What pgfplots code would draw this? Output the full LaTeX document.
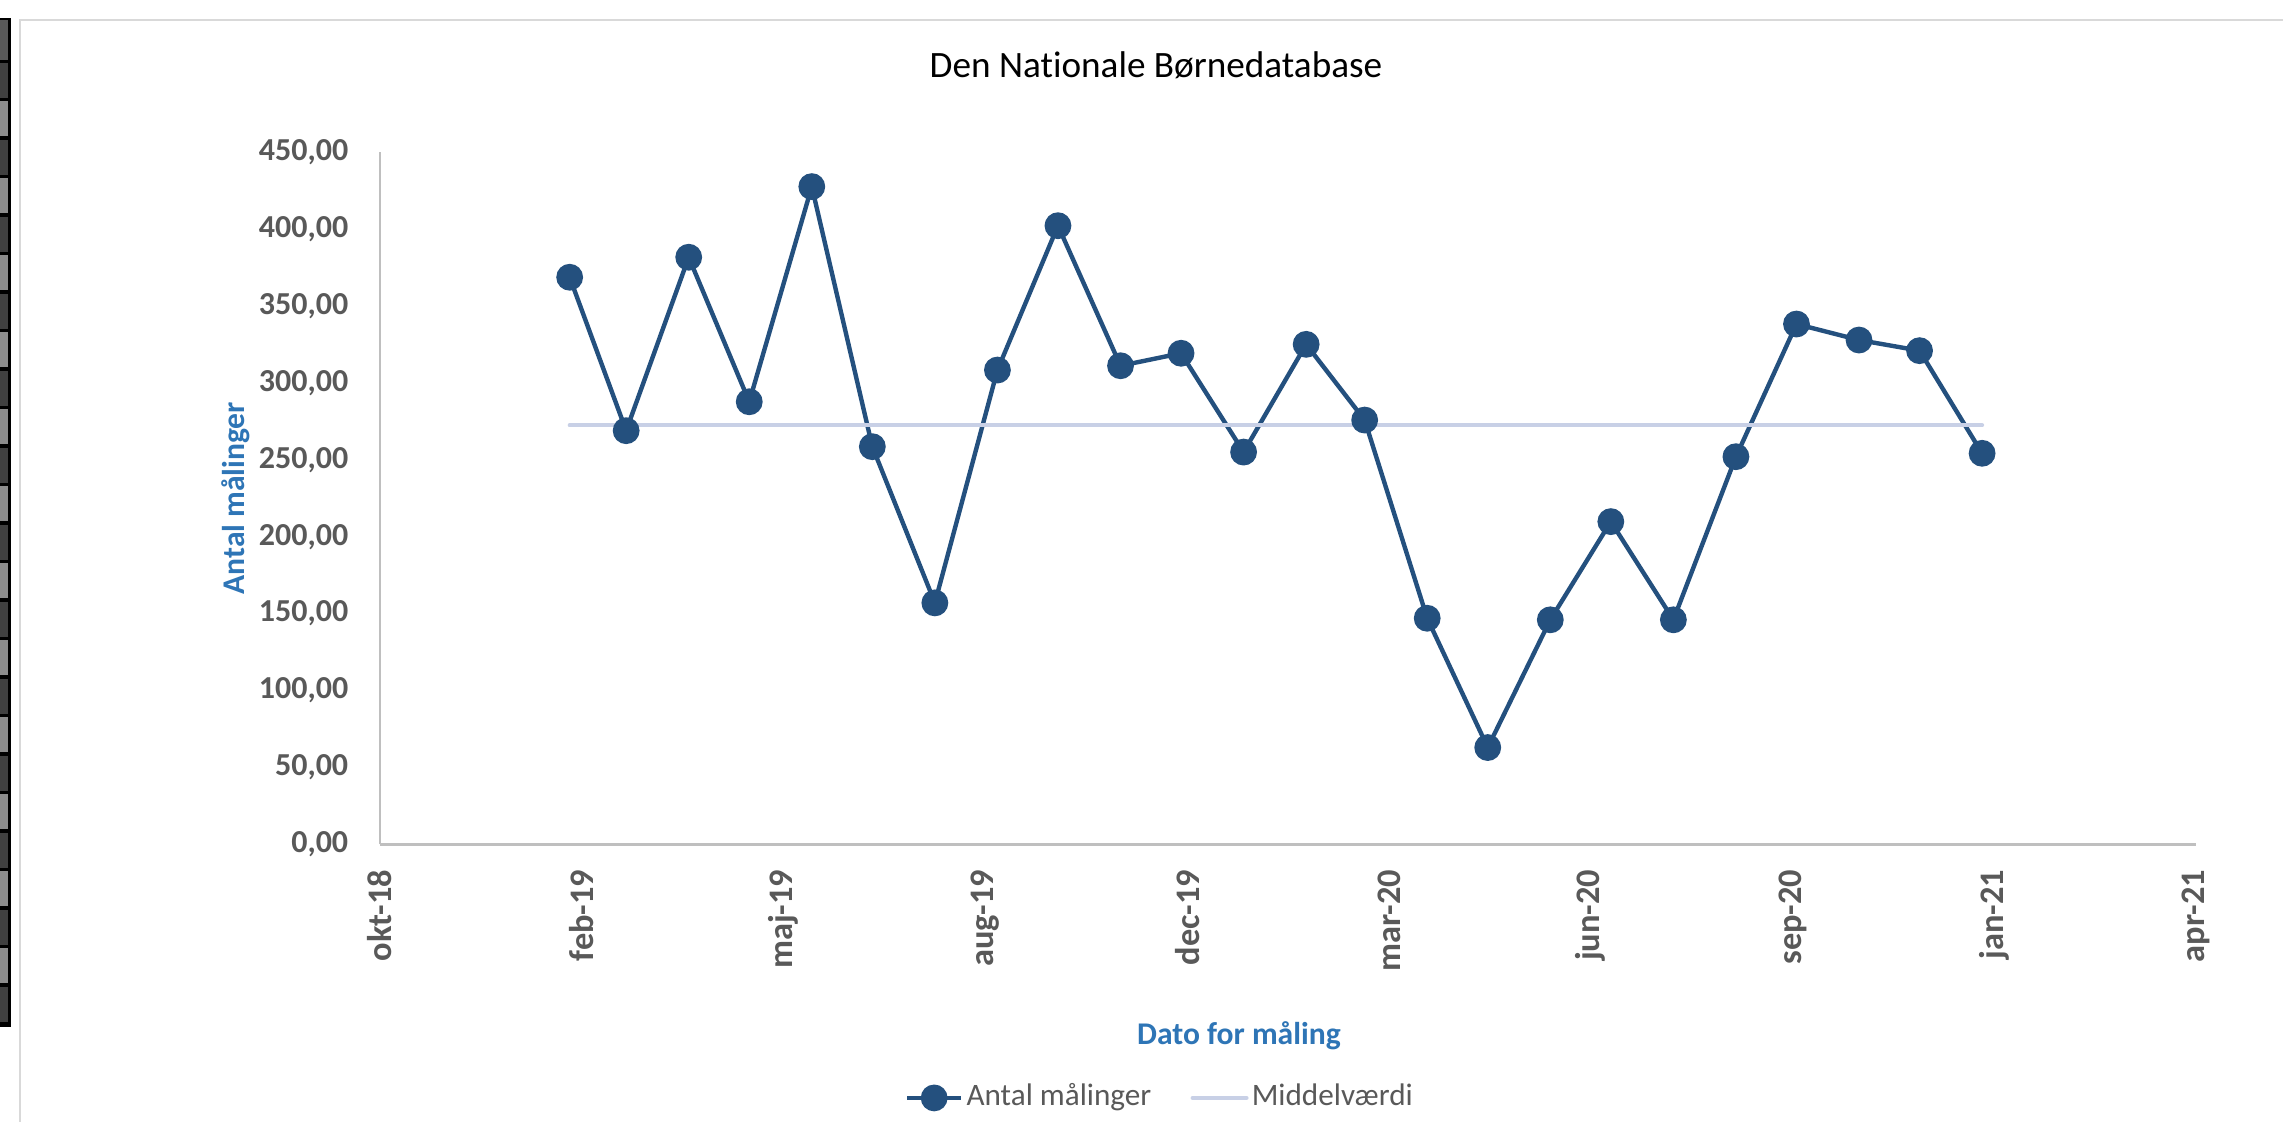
\documentclass[border=0pt]{standalone}
\usepackage{pgfplots}
\pgfplotsset{compat=1.18}
\usepackage{fontspec}
\setmainfont{Carlito}[Ligatures=NoCommon]
\definecolor{serieblue}{HTML}{24507E}
\definecolor{meanline}{HTML}{C8D0E6}
\definecolor{ticktext}{HTML}{595959}
\definecolor{titleblue}{HTML}{2E75B6}
\definecolor{axisgray}{HTML}{BFBFBF}
\definecolor{framegray}{HTML}{D9D9D9}
\begin{document}
\begin{tikzpicture}
\path[use as bounding box, fill=white] (0,0) rectangle (570.75pt,280.5pt);
% chart frame
\draw[framegray, line width=0.5pt] (5pt,0) -- (5pt,275.5pt) -- (570.75pt,275.5pt);
% spreadsheet strip at the left edge
\fill[black] (0,23.75pt) rectangle (2.7pt,276pt);
\fill[gray!70!black] (0,265.6pt) rectangle (1.9pt,275.6pt);
\foreach \k in {0,...,24} {
  \pgfmathsetmacro{\shade}{mod(\k,2)==0 ? 75 : 45}
  \fill[black!\shade!white] (0,{(1061-38.5*\k)/4*1pt-0.4pt}) rectangle (1.9pt,{(1061-38.5*(\k+1))/4*1pt+0.4pt});
}
\begin{axis}[
  at={(95pt,69.375pt)}, anchor=south west,
  scale only axis, width=454pt, height=173.125pt,
  xmin=0, xmax=900, ymin=0, ymax=450,
  axis x line*=bottom, axis y line*=left,
  axis line style={-, axisgray, line width=0.6pt},
  xtick={0,100,...,900},
  xticklabels={okt-18,feb-19,maj-19,aug-19,dec-19,mar-20,jun-20,sep-20,jan-21,apr-21},
  ytick={0,50,...,450},
  yticklabels={{0,00},{50,00},{100,00},{150,00},{200,00},{250,00},{300,00},{350,00},{400,00},{450,00}},
  major tick length=0pt,
  tick label style={font=\bfseries\fontsize{8}{9.6}\selectfont, text=ticktext},
  yticklabel style={anchor=east, inner sep=0pt},
  yticklabel shift=7.75pt,
  xticklabel style={rotate=90, anchor=east, inner sep=0pt, font=\bfseries\fontsize{8.6}{10}\selectfont},
  xticklabel shift=6.1pt,
  xlabel={Dato for måling}, ylabel={Antal målinger},
  label style={font=\bfseries\fontsize{7.9}{9.5}\selectfont, text=titleblue, inner sep=0pt},
  xlabel style={at={(axis description cs:0.473,-0.2894)}, anchor=base},
  ylabel style={at={(axis description cs:-0.07434,0.5)}, anchor=base},
  title={Den Nationale Børnedatabase},
  title style={font=\fontsize{9.3}{11}\selectfont, text=black, inner sep=0pt, at={(axis description cs:0.4273,1.0725)}, anchor=base},
  legend columns=2,
  legend style={draw=none, fill=none, at={(axis description cs:0.4298,-0.366)}, anchor=center,
    font=\fontsize{7.8}{9.4}\selectfont, text=ticktext, inner sep=0pt,
    nodes={inner sep=0.8pt},
    /tikz/every even column/.append style={column sep=9pt}},
  legend image code/.code={\draw[mark repeat=2,mark phase=2,#1] plot coordinates {(0pt,0pt) (6.75pt,0pt) (13.5pt,0pt)};},
]
\addplot[serieblue, line width=1.1pt, mark=*, mark size=3.1pt,
  mark options={fill=serieblue, draw=serieblue, line width=0.5pt}] coordinates {
(94,368.6) (122,268.9) (153,381.6) (183,287.7) (214,427.5) (244,258.5)
(275,157) (306,308.3) (336,402.1) (367,311.1) (397,319.2) (428,255)
(459,325) (488,275.8) (519,147) (549,63) (580,146) (610,209.8)
(641,146) (672,252.0) (702,338.2) (733,327.8) (763,320.9) (794,254.2)
};
\addlegendentry{Antal målinger}
\addplot[meanline, line width=1pt, line cap=round] coordinates {(94,272.4) (794,272.4)};
\addlegendentry{Middelværdi}
\end{axis}
\end{tikzpicture}
\end{document}
